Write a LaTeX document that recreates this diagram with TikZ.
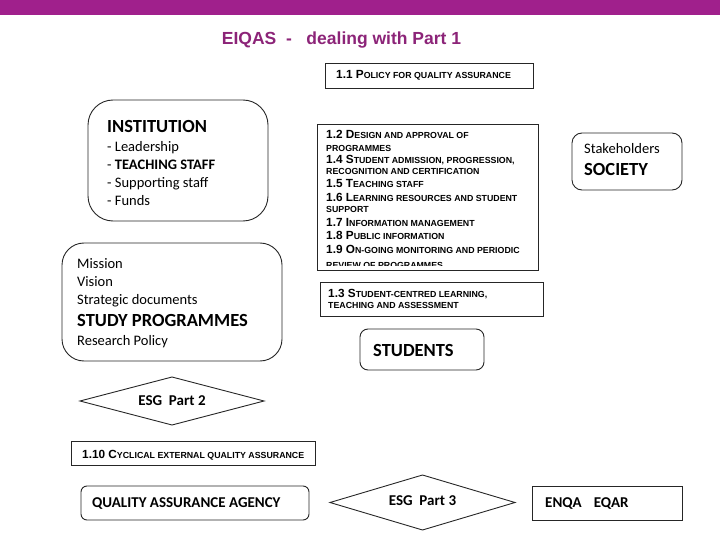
\documentclass[tikz,border=0pt]{standalone}
\usepackage{fontspec}
\setmainfont{Carlito}
\newfontfamily\arialf{Liberation Sans}
\definecolor{barpurple}{RGB}{160,32,140}
\definecolor{titlepurple}{RGB}{140,36,120}
\newcommand{\qsc}[2]{{\fontsize{11.8}{13}\selectfont #1}{\fontsize{8.8}{10}\selectfont #2}}
\newcommand{\qsm}[1]{{\fontsize{8.8}{10}\selectfont #1}}
\tikzset{
  box/.style={draw=black!85, line width=0.9pt, inner sep=0pt, outer sep=0pt, fill=white},
  rbox/.style={box, rounded corners=#1},
  dline/.style={draw=black!85, line width=0.9pt},
  dtxt/.style={inner sep=0pt, font=\bfseries\fontsize{15}{17}\selectfont},
  txt/.style={anchor=base west, inner sep=0pt, font=\fontsize{14.5}{17}\selectfont},
  btxt/.style={anchor=base west, inner sep=0pt, font=\bfseries\fontsize{18.5}{21}\selectfont},
  mtxt/.style={anchor=base west, inner sep=0pt, font=\bfseries\fontsize{15}{17}\selectfont},
  qtxt/.style={anchor=base west, inner sep=0pt, font=\arialf\bfseries},
}
\begin{document}
\begin{tikzpicture}[x=1pt,y=-1pt]
\useasboundingbox (0,0) rectangle (720,540);
\node[fill=barpurple, minimum width=720pt, minimum height=15pt, inner sep=0pt, outer sep=0pt, anchor=north west] (bar) at (0,0) {};
\node[anchor=base, inner sep=0pt, font=\arialf\bfseries\fontsize{17.5}{20}\selectfont, text=titlepurple] (title) at (341.5,45) {EIQAS\ \ -\ \ \ dealing with Part 1};

% boxes
\node[box, minimum width=208pt, minimum height=25pt] (p11) at (429,75.5) {};
\node[box, minimum width=221pt, minimum height=146pt] (p12) at (427.5,197) {};
\node[box, minimum width=223pt, minimum height=34pt] (p13) at (431.5,299) {};
\node[rbox=8pt, minimum width=124pt, minimum height=41pt] (students) at (422,349.5) {};
\node[rbox=25pt, minimum width=180pt, minimum height=121pt] (inst) at (178,160.5) {};
\node[rbox=22pt, minimum width=220pt, minimum height=118pt] (mission) at (172,302) {};
\node[rbox=10pt, minimum width=110pt, minimum height=57pt] (stake) at (627,161.5) {};
\node[box, minimum width=244pt, minimum height=24pt] (p110) at (193,453) {};
\node[rbox=6pt, minimum width=228pt, minimum height=34pt] (qaa) at (195,503) {};
\node[box, minimum width=150pt, minimum height=34pt] (enqa) at (607,503) {};

% diamonds
\draw[dline] (80,401) -- (172,377) -- (264,401) -- (172,425) -- cycle;
\node[dtxt] (esg2) at (172,401) {ESG\ \ Part 2};
\draw[dline] (330,502.5) -- (422.5,475) -- (515,502.5) -- (422.5,530) -- cycle;
\node[dtxt] (esg3) at (422.5,500.5) {ESG\ \ Part 3};

% INSTITUTION
\node[btxt] (instT) at (107,132.5) {INSTITUTION};
\node[txt] (inst1) at (107,151.5) {- Leadership};
\node[txt] (inst2) at (107,169.5) {- \textbf{TEACHING STAFF}};
\node[txt] (inst3) at (107,187.5) {- Supporting staff};
\node[txt] (inst4) at (107,205.5) {- Funds};

% Mission
\node[txt] (mis1) at (77,268) {Mission};
\node[txt] (mis2) at (77,286) {Vision};
\node[txt] (mis3) at (77,304) {Strategic documents};
\node[btxt] (mis4) at (77,326) {STUDY PROGRAMMES};
\node[txt] (mis5) at (77,345) {Research Policy};

% Stakeholders
\node[txt] (stk1) at (584,154) {Stakeholders};
\node[btxt] (stk2) at (584,176) {SOCIETY};

% Students
\node[btxt] (stuT) at (373,356) {STUDENTS};

% bottom
\node[mtxt] (qaaT) at (92,507) {QUALITY ASSURANCE AGENCY};
\node[mtxt] (enqaT) at (545,507) {ENQA\hspace{0.8em}EQAR};

% ESG texts
\node[qtxt] (p11T) at (336,79) {\qsc{1.1 P}{OLICY FOR QUALITY ASSURANCE}};
\node[qtxt] (p110T) at (82,458) {\qsc{1.10 C}{YCLICAL EXTERNAL QUALITY ASSURANCE}};
\node[qtxt] (p13a) at (328,297.5) {\qsc{1.3 S}{TUDENT-CENTRED LEARNING,}};
\node[qtxt] (p13b) at (328,308.5) {\qsm{TEACHING AND ASSESSMENT}};

\begin{scope}
\clip (318,125) rectangle (537,265.5);
\node[qtxt] (l1) at (326,138.3) {\qsc{1.2 D}{ESIGN AND APPROVAL OF}};
\node[qtxt] (l2) at (326,151.7) {\qsm{PROGRAMMES}};
\node[qtxt] (l3) at (326,164) {\qsc{1.4 S}{TUDENT ADMISSION, PROGRESSION,}};
\node[qtxt] (l4) at (326,175) {\qsm{RECOGNITION AND CERTIFICATION}};
\node[qtxt] (l5) at (326,188) {\qsc{1.5 T}{EACHING STAFF}};
\node[qtxt] (l6) at (326,202) {\qsc{1.6 L}{EARNING RESOURCES AND STUDENT}};
\node[qtxt] (l7) at (326,213) {\qsm{SUPPORT}};
\node[qtxt] (l8) at (326,226) {\qsc{1.7 I}{NFORMATION MANAGEMENT}};
\node[qtxt] (l9) at (326,239.5) {\qsc{1.8 P}{UBLIC INFORMATION}};
\node[qtxt] (l10) at (326,254) {\qsc{1.9 O}{N-GOING MONITORING AND PERIODIC}};
\node[qtxt] (l11) at (326,268) {\qsm{REVIEW OF PROGRAMMES}};
\end{scope}
\end{tikzpicture}
\end{document}
